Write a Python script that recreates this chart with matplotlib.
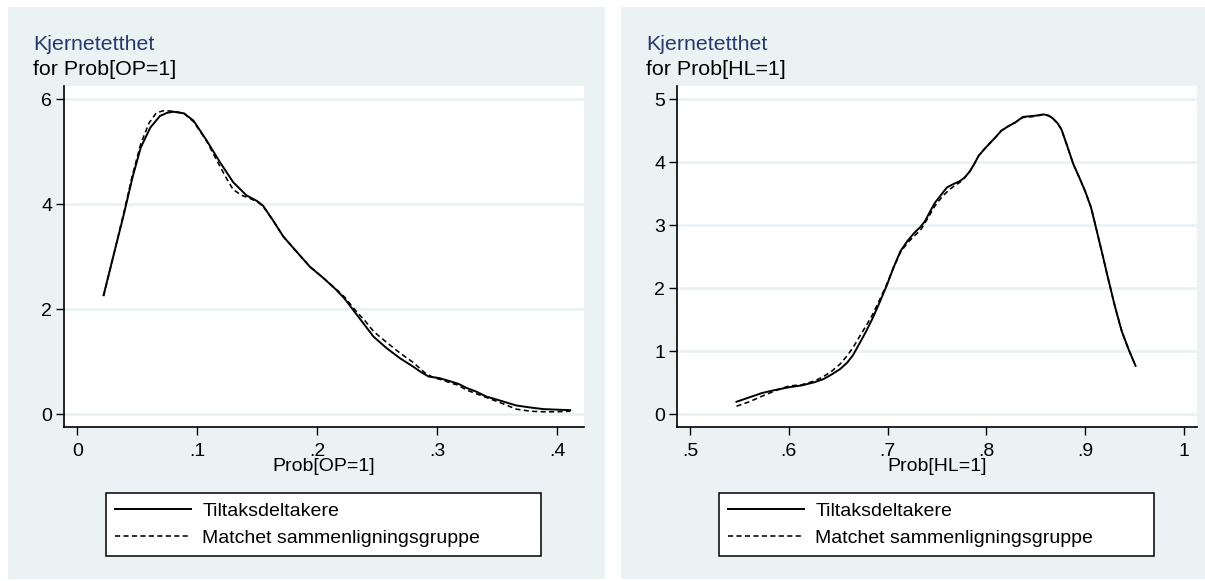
import matplotlib
matplotlib.use("Agg")
import matplotlib.pyplot as plt
from matplotlib.patches import Rectangle

plt.rcParams['font.family'] = ['Liberation Sans', 'DejaVu Sans']

# kernel density, Prob[OP=1]
op_treat_x = [0.022, 0.030, 0.039, 0.046, 0.053, 0.061, 0.069, 0.075, 0.080, 0.089,
              0.097, 0.108, 0.119, 0.130, 0.141, 0.150, 0.155, 0.163, 0.172, 0.182,
              0.194, 0.205, 0.216, 0.223, 0.229, 0.238, 0.247, 0.258, 0.269, 0.280,
              0.287, 0.293, 0.302, 0.311, 0.318, 0.325, 0.333, 0.341, 0.353, 0.366,
              0.378, 0.389, 0.400, 0.411]
op_treat_y = [2.27, 3.00, 3.82, 4.50, 5.08, 5.46, 5.68, 5.74, 5.76, 5.73,
              5.59, 5.21, 4.80, 4.42, 4.17, 4.06, 3.97, 3.70, 3.38, 3.12,
              2.81, 2.60, 2.37, 2.20, 2.02, 1.75, 1.48, 1.26, 1.07, 0.91,
              0.80, 0.72, 0.69, 0.63, 0.58, 0.50, 0.43, 0.34, 0.26, 0.17,
              0.13, 0.10, 0.09, 0.08]
op_match_x = [0.022, 0.030, 0.039, 0.046, 0.053, 0.060, 0.066, 0.072, 0.080, 0.089,
              0.097, 0.108, 0.119, 0.125, 0.130, 0.137, 0.143, 0.150, 0.155, 0.163,
              0.172, 0.182, 0.194, 0.205, 0.216, 0.223, 0.233, 0.240, 0.247, 0.258,
              0.269, 0.280, 0.290, 0.297, 0.305, 0.311, 0.317, 0.325, 0.339, 0.353,
              0.366, 0.378, 0.389, 0.400, 0.411]
op_match_y = [2.25, 3.00, 3.85, 4.55, 5.15, 5.55, 5.74, 5.78, 5.77, 5.73,
              5.57, 5.20, 4.72, 4.47, 4.28, 4.17, 4.12, 4.05, 3.96, 3.70,
              3.38, 3.12, 2.81, 2.60, 2.38, 2.23, 1.95, 1.78, 1.58, 1.37,
              1.17, 0.99, 0.79, 0.70, 0.65, 0.60, 0.56, 0.46, 0.34, 0.22,
              0.10, 0.06, 0.05, 0.05, 0.06]

# kernel density, Prob[HL=1]
hl_treat_x = [0.547, 0.560, 0.573, 0.587, 0.600, 0.613, 0.626, 0.635, 0.643, 0.652,
              0.659, 0.665, 0.671, 0.678, 0.685, 0.692, 0.699, 0.706, 0.713, 0.720,
              0.727, 0.733, 0.738, 0.743, 0.748, 0.754, 0.760, 0.766, 0.773, 0.778,
              0.783, 0.788, 0.792, 0.798, 0.804, 0.810, 0.815, 0.822, 0.829, 0.837,
              0.844, 0.850, 0.858, 0.863, 0.867, 0.872, 0.876, 0.882, 0.888, 0.894,
              0.900, 0.906, 0.911, 0.917, 0.923, 0.930, 0.937, 0.944, 0.951]
hl_treat_y = [0.20, 0.27, 0.34, 0.39, 0.43, 0.46, 0.51, 0.56, 0.63, 0.72,
              0.82, 0.94, 1.11, 1.31, 1.53, 1.78, 2.04, 2.33, 2.59, 2.75,
              2.88, 2.97, 3.07, 3.22, 3.36, 3.48, 3.60, 3.65, 3.70, 3.76,
              3.85, 3.98, 4.10, 4.21, 4.31, 4.41, 4.50, 4.57, 4.63, 4.72,
              4.73, 4.74, 4.76, 4.74, 4.70, 4.62, 4.52, 4.25, 3.97, 3.76,
              3.54, 3.28, 2.96, 2.57, 2.17, 1.72, 1.32, 1.03, 0.77]
hl_match_x = [0.547, 0.560, 0.573, 0.587, 0.600, 0.613, 0.626, 0.635, 0.643, 0.652,
              0.659, 0.665, 0.671, 0.678, 0.685, 0.692, 0.699, 0.706, 0.713, 0.720,
              0.727, 0.734, 0.741, 0.748, 0.755, 0.762, 0.768, 0.773, 0.778,
              0.783, 0.788, 0.792, 0.798, 0.804, 0.810, 0.815, 0.822, 0.829, 0.837,
              0.844, 0.850, 0.858, 0.863, 0.867, 0.872, 0.876, 0.882, 0.888, 0.894,
              0.900, 0.906, 0.911, 0.917, 0.923, 0.930, 0.937, 0.944, 0.951]
hl_match_y = [0.13, 0.20, 0.29, 0.38, 0.45, 0.47, 0.53, 0.60, 0.68, 0.80,
              0.93, 1.06, 1.22, 1.40, 1.59, 1.82, 2.06, 2.33, 2.57, 2.72,
              2.83, 2.94, 3.12, 3.31, 3.45, 3.56, 3.63, 3.68, 3.75,
              3.85, 3.98, 4.10, 4.21, 4.31, 4.41, 4.50, 4.57, 4.63, 4.71,
              4.72, 4.73, 4.76, 4.74, 4.70, 4.62, 4.52, 4.25, 3.97, 3.76,
              3.54, 3.28, 2.96, 2.57, 2.17, 1.72, 1.32, 1.03, 0.77]

op_xticks = [0, 0.1, 0.2, 0.3, 0.4]
op_xlabels = ["0", ".1", ".2", ".3", ".4"]
op_yticks = [0, 2, 4, 6]
hl_xticks = [0.5, 0.6, 0.7, 0.8, 0.9, 1.0]
hl_xlabels = [".5", ".6", ".7", ".8", ".9", "1"]
hl_yticks = [0, 1, 2, 3, 4, 5]

legend_labels = ["Tiltaksdeltakere", "Matchet sammenligningsgruppe"]

BG = "#eaf2f3"
TITLE_BLUE = "#26396b"
W, H = 1205, 581

fig = plt.figure(figsize=(W / 100, H / 100), dpi=100)
fig.patch.set_facecolor("white")


def px_box(x0, y0, x1, y1):
    # pixel box (top-left origin) -> figure fraction rect
    return [x0 / W, 1 - y1 / H, (x1 - x0) / W, (y1 - y0) / H]


# panel backgrounds, kept under the axes
for x0, x1 in [(8, 605), (621, 1205)]:
    fig.patches.append(Rectangle((x0 / W, 1 - 579 / H), (x1 - x0) / W, (579 - 7) / H,
                                 transform=fig.transFigure, facecolor=BG,
                                 edgecolor="none", zorder=-5))

panels = [
    dict(rect=px_box(64, 86, 584, 427), xlim=(-0.011, 0.4225), ylim=(-0.24, 6.25),
         xt=op_xticks, xl=op_xlabels, yt=op_yticks, sub="for Prob[OP=1]",
         xlabel="Prob[OP=1]", tx=33, lx=106,
         data=(op_treat_x, op_treat_y, op_match_x, op_match_y)),
    dict(rect=px_box(677, 86, 1197, 427), xlim=(0.4868, 1.0132), ylim=(-0.20, 5.21),
         xt=hl_xticks, xl=hl_xlabels, yt=hl_yticks, sub="for Prob[HL=1]",
         xlabel="Prob[HL=1]", tx=646, lx=719,
         data=(hl_treat_x, hl_treat_y, hl_match_x, hl_match_y)),
]

for p in panels:
    ax = fig.add_axes(p["rect"], zorder=2)
    ax.set_facecolor("white")
    tx, ty, mx, my = p["data"]
    ax.plot(tx, ty, color="black", lw=1.4, solid_joinstyle="round",
            label=legend_labels[0])
    ax.plot(mx, my, color="black", lw=1.15, linestyle=(0, (3.2, 2.1)),
            label=legend_labels[1])
    ax.set_xlim(*p["xlim"])
    ax.set_ylim(*p["ylim"])
    ax.set_xticks(p["xt"])
    ax.set_xticklabels(p["xl"])
    ax.set_yticks(p["yt"])
    ax.set_yticklabels([str(v) for v in p["yt"]])
    ax.yaxis.grid(True, color=BG, lw=2.0)
    ax.set_axisbelow(True)
    for s in ["top", "right"]:
        ax.spines[s].set_visible(False)
    for s in ["left", "bottom"]:
        ax.spines[s].set_linewidth(1.2)
    ax.tick_params(direction="out", length=6, width=1.0, labelsize=14, pad=2.5)
    ax.tick_params(axis="x", pad=5.5)
    ax.set_xlabel(p["xlabel"], fontsize=14, labelpad=-1.5)

    fig.text(p["tx"] / W, 1 - 44 / H, "Kjernetetthet", color=TITLE_BLUE,
             fontsize=15.4, va="center", ha="left")
    fig.text(p["tx"] / W, 1 - 70 / H, p["sub"], color="black",
             fontsize=15.4, va="center", ha="left")

    box = px_box(p["lx"], 492, p["lx"] + 435, 557)
    leg = fig.legend(ax.get_lines(), legend_labels, loc="center",
                     bbox_to_anchor=box, mode="expand", fontsize=14,
                     frameon=True, fancybox=False, framealpha=1,
                     edgecolor="black", handlelength=3.9, handletextpad=0.6,
                     borderpad=0.45, labelspacing=0.5, borderaxespad=0)
    leg.get_frame().set_linewidth(1.1)
    leg.set_zorder(3)

fig.savefig("out.png", dpi=100, facecolor="white")
